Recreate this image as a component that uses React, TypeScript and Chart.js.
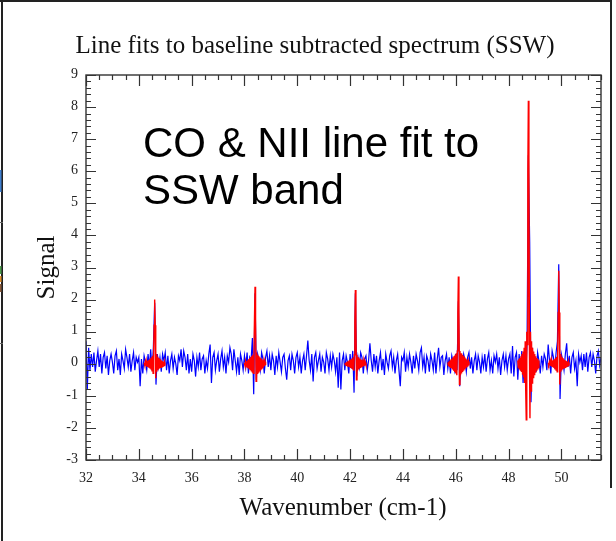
import React, { useEffect, useRef } from 'react';
import { Chart, registerables } from 'chart.js';

Chart.register(...registerables);

// ---- data ----
const blueStart = 32.0;
const blueStep = 0.05;
// observed baseline-subtracted spectrum, 32.00 .. 51.50 cm-1
const blueSignal = [
  0.7, -0.8, 0.5, -0.2, 0.3, -0.1, 0.35, -0.25, 0.1, 0.4, -0.1, 0.3, -0.3, 0.2, 0.35, -0.15, 0.25, -0.35, 0.1, 0.3,
  0.05, -0.3, 0.25, 0.4, -0.2, 0.15, -0.35, 0.3, 0.1, -0.15, 0.45, 0.2, -0.1, 0.3, -0.25, 0.1, 0.35, -0.2, 0.2, 0.05,
  0.2, -0.7, 0.15, -0.3, 0.25, 0.05, -0.2, 0.3, -0.1, 0.45, -0.2, 0.5, 1.9, -0.65, 0.3, -0.1, 0.2, -0.25, 0.3, 0.1,
  0.35, -0.2, 0.25, -0.3, 0.1, 0.3, -0.15, 0.2, 0.0, -0.35, 0.25, 0.1, 0.45, -0.1, 0.4, 0.2, -0.2, 0.3, -0.3, 0.15,
  -0.25, 0.3, 0.1, -0.4, 0.2, -0.1, 0.35, -0.2, 0.15, 0.25, -0.3, 0.1, -0.15, 0.3, 0.6, -0.6, 0.2, 0.35, -0.2, 0.1,
  0.3, -0.25, 0.15, 0.4, -0.1, 0.2, -0.3, 0.25, 0.05, 0.5, 0.3, -0.2, 0.45, 0.1, -0.25, 0.2, -0.35, 0.3, 0.1, -0.2,
  0.25, -0.1, 0.35, -0.3, 0.2, 0.1, 0.8, -0.95, 2.2, -0.5, 0.3, 0.1, -0.2, 0.35, 0.15, -0.3, 0.2, 0.4, -0.1, 0.25,
  -0.2, 0.3, 0.1, -0.35, 0.25, -0.1, 0.35, 0.05, -0.25, 0.2, 0.3, -0.15, -0.5, 0.1, 0.25, -0.2, 0.3, 0.1, -0.3, 0.2,
  0.35, -0.1, 0.2, -0.3, 0.1, 0.3, -0.2, 0.25, 0.72, 0.1, -0.2, 0.3, -0.55, 0.2, 0.35, -0.15, 0.1, 0.3, -0.25, 0.2,
  0.05, -0.3, 0.35, 0.15, -0.2, 0.25, -0.1, 0.3, 0.1, -0.25, 0.2, -0.75, 0.35, -0.8, 0.1, 0.3, -0.2, 0.25, 0.05, -0.3,
  0.3, -0.15, 0.4, -0.9, 2.2, -0.4, 0.2, -0.1, 0.35, 0.2, -0.3, 0.15, 0.25, -0.2, 0.1, 0.64, 0.1, -0.25, 0.3, -0.1,
  0.25, -0.3, 0.1, 0.35, -0.2, 0.15, -0.35, 0.3, 0.05, -0.15, 0.25, 0.4, -0.1, 0.2, -0.3, 0.1, 0.3, -0.2, -0.7, 0.2,
  0.1, 0.35, -0.25, 0.2, -0.1, 0.3, 0.05, -0.3, 0.25, -0.15, 0.3, 0.1, -0.2, 0.35, 0.5, -0.1, 0.2, -0.3, 0.25, 0.1,
  -0.25, 0.3, 0.1, -0.2, 0.35, -0.3, 0.15, 0.5, -0.1, 0.2, 0.25, -0.35, 0.1, 0.3, -0.15, 0.2, -0.3, 0.25, 0.05, -0.2,
  0.3, -0.2, 1.95, -0.7, 0.25, -0.1, 0.3, 0.1, -0.25, 0.2, 0.35, -0.15, 0.2, -0.3, 0.1, 0.3, -0.2, 0.25, 0.05, -0.3,
  0.2, -0.1, 0.3, -0.25, 0.15, 0.35, -0.2, 0.1, -0.3, 0.25, 0.05, 0.3, -0.15, 0.2, -0.35, 0.1, 0.3, -0.1, 0.25, -0.2,
  0.15, 0.3, -0.3, 0.55, -0.4, 0.2, 0.35, -0.5, 0.3, -0.2, 0.4, -0.6, 0.25, -0.35, 0.6, 6.5, 3.8, -1.2, 0.5, -0.3,
  0.2, -0.25, 0.35, 0.1, -0.3, 0.25, -0.1, 0.3, 0.15, -0.2, 0.6, 0.1, -0.3, 0.4, 0.2, -0.15, 0.35, 0.7, 3.1, -1.1,
  0.3, 0.1, -0.2, 0.3, 0.64, -0.1, 0.25, -0.3, 0.2, 0.35, -0.15, 0.1, -0.7, 0.3, 0.05, 0.25, -0.2, 0.3, -0.1, 0.35,
  -0.25, 0.2, 0.35, -0.1, 0.3, 0.1, -0.3, 0.25, 0.4, -0.05, 0.2,
];

// fitted line profiles (sinc), sampled every 0.02 cm-1 from -0.40 to +0.40 around each centre
const fitCenters = [34.6, 38.4, 42.2, 46.1, 48.75, 49.9];
const fitStep = 0.02;
const fitHalfCount = 20;
const fitCO1 = [
  0.03, -0.04, 0.05, -0.06, 0.07, -0.08, 0.09, -0.1, 0.11, -0.12, 0.13, -0.15, 0.16, -0.18, 0.2, -0.22, 0.25, -0.3, 0.35, 1.2,
  2.0,
  1.2, -0.45, 0.3, -0.25, 0.22, -0.2, 0.18, -0.16, 0.15, -0.13, 0.12, -0.11, 0.1, -0.09, 0.08, -0.07, 0.06, -0.05, 0.04, -0.03,
];
const fitCO2 = [
  0.03, -0.05, 0.06, -0.07, 0.08, -0.1, 0.11, -0.12, 0.14, -0.15, 0.17, -0.18, 0.2, -0.22, 0.24, -0.26, 0.28, -0.3, 0.35, 1.4,
  2.4,
  1.4, -0.55, 0.35, -0.3, 0.28, -0.26, 0.24, -0.22, 0.2, -0.18, 0.17, -0.15, 0.14, -0.12, 0.11, -0.1, 0.08, -0.07, 0.06, -0.04,
];
const fitCO3 = [
  0.02, -0.03, 0.04, -0.05, 0.06, -0.07, 0.08, -0.09, 0.1, -0.11, 0.12, -0.13, 0.14, -0.15, 0.16, -0.18, 0.2, -0.22, 0.28, 1.3,
  2.3,
  1.3, -0.5, 0.28, -0.22, 0.2, -0.18, 0.16, -0.15, 0.14, -0.13, 0.12, -0.11, 0.1, -0.09, 0.08, -0.07, 0.06, -0.05, 0.04, -0.03,
];
const fitCO4 = [
  0.04, -0.05, 0.07, -0.08, 0.1, -0.11, 0.13, -0.14, 0.16, -0.18, 0.2, -0.22, 0.24, -0.26, 0.28, -0.3, 0.33, -0.36, 0.4, 1.6,
  2.72,
  1.6, -0.65, 0.4, -0.36, 0.33, -0.3, 0.28, -0.26, 0.24, -0.22, 0.2, -0.18, 0.16, -0.14, 0.13, -0.11, 0.1, -0.08, 0.07, -0.05,
];
const fitNII = [
  0.1, -0.12, 0.14, -0.16, 0.18, -0.2, 0.23, -0.26, 0.3, -0.34, 0.38, -0.43, 0.5, -0.6, 0.7, -0.85, -1.75, 1.0, 0.6, 6.0,
  8.2,
  6.0, 0.5, -1.7, 1.0, -0.85, 0.7, -0.6, 0.5, -0.43, 0.38, -0.34, 0.3, -0.26, 0.23, -0.2, 0.18, -0.16, 0.14, -0.12, 0.1,
];
const fitCO5 = [
  0.02, -0.03, 0.04, -0.05, 0.06, -0.07, 0.08, -0.09, 0.1, -0.11, 0.12, -0.13, 0.14, -0.16, 0.18, -0.2, 0.22, -0.25, 0.3, 1.6,
  2.9,
  1.6, -0.65, 0.3, -0.25, 0.22, -0.2, 0.18, -0.16, 0.14, -0.13, 0.12, -0.11, 0.1, -0.09, 0.08, -0.07, 0.06, -0.05, 0.04, -0.03,
];
const fitProfiles = [fitCO1, fitCO2, fitCO3, fitCO4, fitNII, fitCO5];

const xMin = 32;
const xMax = 51.5;
const yMin = -3;
const yMax = 9;
const xTickLabels = ['32', '34', '36', '38', '40', '42', '44', '46', '48', '50'];
const yTickLabels = ['-3', '-2', '-1', '0', '1', '2', '3', '4', '5', '6', '7', '8', '9'];
const titleText = 'Line fits to baseline subtracted spectrum (SSW)';
const xTitleText = 'Wavenumber (cm-1)';
const yTitleText = 'Signal';
const noteLines = ['CO & NII line fit to', 'SSW band'];

const SERIF = '"Liberation Serif", "Times New Roman", serif';
const SANS = '"Liberation Sans", Arial, sans-serif';

const decorPlugin = {
  id: 'decor',
  afterDraw(chart: any) {
    const ctx: CanvasRenderingContext2D = chart.ctx;
    const { left, right, top, bottom } = chart.chartArea;
    const xs = chart.scales.x;
    const ys = chart.scales.y;
    ctx.save();

    // page frame lines (screenshot edges)
    ctx.strokeStyle = '#222';
    ctx.lineWidth = 2;
    ctx.beginPath();
    ctx.moveTo(2, 0); ctx.lineTo(2, 541);
    ctx.moveTo(0, 1); ctx.lineTo(612, 1);
    ctx.moveTo(611, 0); ctx.lineTo(611, 488);
    ctx.stroke();
    ctx.lineWidth = 1;
    ctx.strokeStyle = '#666';
    ctx.beginPath();
    ctx.moveTo(0, 222.5); ctx.lineTo(3, 222.5);
    ctx.moveTo(0, 343.5); ctx.lineTo(3, 343.5);
    ctx.stroke();
    ctx.fillStyle = '#3f7fd0';
    ctx.fillRect(0, 170, 1.5, 22);
    ctx.fillStyle = '#4a9a4a';
    ctx.fillRect(0, 266, 1.5, 8);
    ctx.fillStyle = '#e0902a';
    ctx.fillRect(0, 276, 1.5, 6);
    ctx.fillStyle = '#8a5a3a';
    ctx.fillRect(0, 284, 1.5, 8);

    // plot frame
    ctx.strokeStyle = '#333';
    ctx.lineWidth = 1.4;
    ctx.strokeRect(left, top, right - left, bottom - top);

    // x ticks
    const xMajor = xTickLabels.map(Number);
    ctx.lineWidth = 1.2;
    ctx.beginPath();
    for (let i = 0; i <= Math.round((xMax - xMin) / 0.5); i++) {
      const v = xMin + i * 0.5;
      const px = Math.round(xs.getPixelForValue(v)) + 0.5;
      const major = xMajor.some((m) => Math.abs(m - v) < 1e-6);
      const len = major ? 11 : 5;
      ctx.moveTo(px, bottom); ctx.lineTo(px, bottom - len);
      ctx.moveTo(px, top); ctx.lineTo(px, top + len);
    }
    // y ticks
    for (let i = 0; i <= Math.round((yMax - yMin) / 0.2); i++) {
      const v = yMin + i * 0.2;
      const py = Math.round(ys.getPixelForValue(v)) + 0.5;
      const major = Math.abs(v - Math.round(v)) < 1e-6;
      const len = major ? 10 : 5;
      ctx.moveTo(left, py); ctx.lineTo(left + len, py);
      ctx.moveTo(right, py); ctx.lineTo(right - len, py);
    }
    ctx.stroke();

    // tick labels
    ctx.fillStyle = '#222';
    ctx.font = `14px ${SERIF}`;
    ctx.textAlign = 'center';
    ctx.textBaseline = 'top';
    xTickLabels.forEach((t) => {
      ctx.fillText(t, xs.getPixelForValue(Number(t)), bottom + 11);
    });
    ctx.textAlign = 'right';
    ctx.textBaseline = 'middle';
    yTickLabels.forEach((t) => {
      ctx.fillText(t, left - 8, ys.getPixelForValue(Number(t)) - 1);
    });

    // titles
    ctx.fillStyle = '#111';
    ctx.font = `25px ${SERIF}`;
    ctx.textAlign = 'center';
    ctx.textBaseline = 'alphabetic';
    ctx.fillText(titleText, 315, 53);
    ctx.fillText(xTitleText, 343, 515);
    ctx.save();
    ctx.translate(54, (top + bottom) / 2);
    ctx.rotate(-Math.PI / 2);
    ctx.fillText(yTitleText, 0, 0);
    ctx.restore();

    // annotation
    ctx.fillStyle = '#000';
    ctx.font = `42px ${SANS}`;
    ctx.textAlign = 'left';
    ctx.fillText(noteLines[0], 143, 157);
    ctx.fillText(noteLines[1], 143, 204);

    ctx.restore();
  },
};

export default function App() {
  const canvasRef = useRef<HTMLCanvasElement | null>(null);

  useEffect(() => {
    document.body.style.margin = '0';
    document.body.style.background = '#fff';
    const canvas = canvasRef.current;
    if (!canvas) return;

    const blueData = blueSignal.map((y, i) => ({ x: blueStart + i * blueStep, y }));
    const fitDatasets = fitProfiles.map((prof, k) => ({
      label: 'fit ' + (k + 1),
      data: prof.map((y, i) => ({ x: fitCenters[k] + (i - fitHalfCount) * fitStep, y })),
      borderColor: '#ff0000',
      borderWidth: 1.4,
      pointRadius: 0,
      tension: 0,
      order: 0,
    }));

    const chart = new Chart(canvas, {
      type: 'line',
      data: {
        datasets: [
          ...fitDatasets,
          {
            label: 'spectrum',
            data: blueData,
            borderColor: '#0000ff',
            borderWidth: 1.2,
            pointRadius: 0,
            tension: 0,
            order: 1,
          },
        ],
      },
      options: {
        responsive: false,
        animation: false,
        devicePixelRatio: 1,
        layout: { padding: { left: 86, right: 15, top: 75, bottom: 81 } },
        plugins: {
          legend: { display: false },
          tooltip: { enabled: false },
          title: { display: false },
        },
        scales: {
          x: { type: 'linear', min: xMin, max: xMax, display: false },
          y: { type: 'linear', min: yMin, max: yMax, display: false },
        },
      },
      plugins: [decorPlugin],
    } as any);

    return () => chart.destroy();
  }, []);

  return (
    <div style={{ width: 616, height: 541, background: '#fff' }}>
      <canvas ref={canvasRef} width={616} height={541} style={{ display: 'block' }} />
    </div>
  );
}
